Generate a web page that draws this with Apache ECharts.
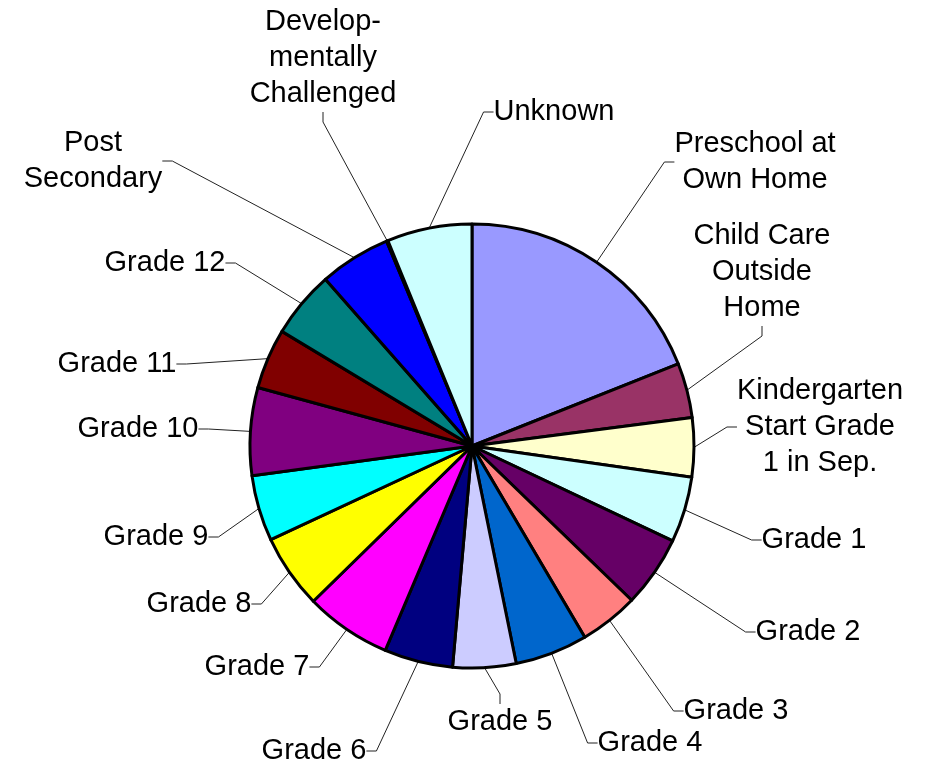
<!DOCTYPE html>
<html>
<head>
<meta charset="utf-8">
<script src="https://cdn.jsdelivr.net/npm/echarts@6/dist/echarts.min.js"></script>
<style>
html, body { margin: 0; padding: 0; background: #fff; }
#box { width: 925px; height: 769px; }
</style>
</head>
<body>
<div id="box"></div>
<script>
// slices, clockwise from 12 o'clock (percent of total)
const categories = [
  "Preschool at\nOwn Home", "Child Care\nOutside\nHome", "Kindergarten\nStart Grade\n1 in Sep.",
  "Grade 1", "Grade 2", "Grade 3", "Grade 4", "Grade 5", "Grade 6", "Grade 7", "Grade 8",
  "Grade 9", "Grade 10", "Grade 11", "Grade 12", "Post\nSecondary",
  "Develop-\nmentally\nChallenged", "Unknown"
];
const values = [19.0, 4.0, 4.3, 4.8, 5.2, 4.3, 5.3, 4.6, 5.0, 6.3, 5.4, 4.8, 6.4, 4.4, 4.9, 5.2, 0.1, 6.2];
const colors = [
  "#9999FF", "#993366", "#FFFFCC", "#CCFFFF", "#660066", "#FF8080", "#0066CC", "#CCCCFF",
  "#000080", "#FF00FF", "#FFFF00", "#00FFFF", "#800080", "#800000", "#008080", "#0000FF",
  "#CCFFFF", "#CCFFFF"
];

// where each label sits (centre of the text block), excel style
const labelSpots = [
  [755, 162], [762, 272], [820, 427], [814, 540], [808, 632], [736, 711], [650, 743],
  [500, 722], [314, 751], [257, 667], [199, 604], [156, 537], [138, 429], [117, 364],
  [165, 263], [93, 161], [323, 58], [554, 112]
];

let myChart = echarts.init(document.getElementById("box"));
let option = {
  animation: false,
  series: [
    {
      type: "pie",
      center: [472, 446],
      radius: 222,
      startAngle: 90,
      clockwise: true,
      avoidLabelOverlap: false,
      data: categories.map((name, i) => ({
        name: name,
        value: values[i],
        itemStyle: { color: colors[i] }
      })),
      itemStyle: { borderColor: "#000", borderWidth: 3 },
      label: {
        show: true,
        position: "outside",
        formatter: "{b}",
        color: "#000",
        fontFamily: "Liberation Sans, Arial, sans-serif",
        fontSize: 29,
        lineHeight: 36,
        align: "center"
      },
      labelLine: {
        show: true,
        length: 20,
        length2: 10,
        lineStyle: { color: "#222", width: 1 }
      },
      labelLayout: function (params) {
        const p = labelSpots[params.dataIndex];
        return { x: p[0], y: p[1], align: "center", verticalAlign: "middle" };
      },
      emphasis: { disabled: true }
    }
  ]
};
myChart.setOption(option);
</script>
</body>
</html>
